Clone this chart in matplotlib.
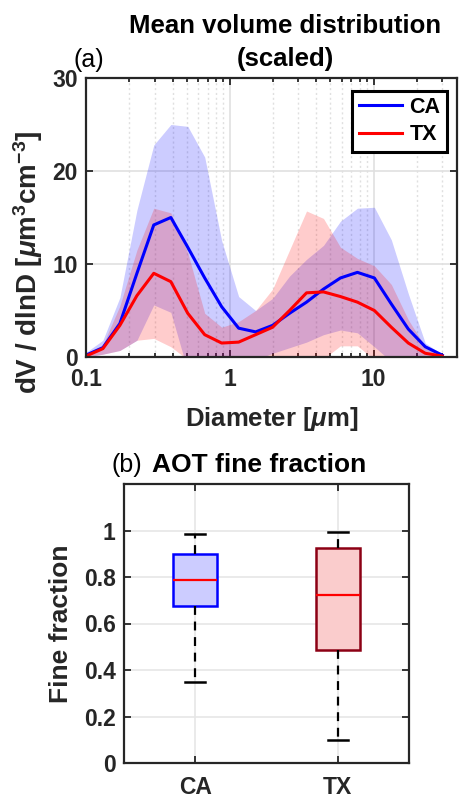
import matplotlib
matplotlib.use('Agg')
import matplotlib.pyplot as plt
from matplotlib.ticker import LogLocator, FixedLocator, FixedFormatter, NullFormatter

plt.rcParams['font.family'] = ['Liberation Sans', 'DejaVu Sans']
plt.rcParams['mathtext.fontset'] = 'custom'
plt.rcParams['mathtext.rm'] = 'Liberation Sans:bold'
plt.rcParams['mathtext.it'] = 'Liberation Sans:italic:bold'
plt.rcParams['mathtext.bf'] = 'Liberation Sans:bold'

# ---------------- data ----------------
diameter = [0.100, 0.131, 0.172, 0.226, 0.296, 0.389, 0.510, 0.669, 0.878, 1.152, 1.512,
            1.984, 2.603, 3.416, 4.481, 5.880, 7.715, 10.12, 13.28, 17.43, 22.86, 30.0]

ca_mean  = [0.2, 1.0, 3.6, 9.0, 14.2, 15.0, 11.8, 8.5, 5.4, 3.1, 2.7,
            3.4, 4.7, 5.9, 7.3, 8.5, 9.1, 8.5, 5.7, 3.0, 1.1, 0.2]
ca_upper = [0.5, 1.8, 6.4, 15.8, 22.8, 25.0, 24.8, 21.5, 12.5, 6.5, 5.0,
            6.3, 8.7, 10.5, 12.0, 14.6, 16.0, 16.1, 12.6, 6.8, 1.5, 0.3]
ca_lower = [0.0, 0.3, 0.7, 1.8, 5.6, 4.8, -1.5, -2.0, -2.0, -1.0, -0.3,
            0.4, 1.0, 1.6, 2.4, 2.9, 2.6, 1.1, -0.5, -0.5, -0.2, 0.0]

tx_mean  = [0.1, 0.9, 3.4, 6.6, 9.0, 8.1, 4.7, 2.4, 1.5, 1.6, 2.4,
            3.2, 5.0, 6.9, 7.0, 6.5, 5.9, 5.0, 3.2, 1.5, 0.4, 0.1]
tx_upper = [0.4, 1.3, 5.5, 11.5, 16.0, 15.5, 11.2, 4.7, 3.2, 3.8, 5.0,
            7.3, 11.5, 15.7, 14.9, 11.8, 10.6, 9.8, 7.8, 4.0, 1.1, 0.1]
tx_lower = [0.0, 0.3, 0.7, 1.8, 2.0, 1.1, -0.3, -1.0, -1.0, -1.0, -1.0,
            -1.0, -1.0, -0.8, -0.2, 1.2, 1.2, -0.3, -1.0, -0.5, -0.2, 0.0]

groups  = ['CA', 'TX']
ff_med  = [0.785, 0.721]
ff_q1   = [0.675, 0.485]
ff_q3   = [0.900, 0.924]
ff_lo   = [0.349, 0.099]
ff_hi   = [0.983, 0.993]

xticks_a = [0.1, 1, 10]
xticklabels_a = ['0.1', '1', '10']
yticks_a = [0, 10, 20, 30]
yticks_b = [0, 0.2, 0.4, 0.6, 0.8, 1.0]
yticklabels_b = ['0', '0.2', '0.4', '0.6', '0.8', '1']

# ---------------- figure ----------------
W, H = 460, 799
fig = plt.figure(figsize=(W / 100, H / 100), dpi=100)
dark = (0.15, 0.15, 0.15)
TICK = 16.5

def style_axes(ax):
    for s in ax.spines.values():
        s.set_color(dark)
        s.set_linewidth(1.6)
    ax.tick_params(which='both', direction='in', top=True, right=True,
                   colors=dark, width=1.3)
    ax.tick_params(which='major', length=5, labelsize=TICK, pad=6)
    ax.tick_params(which='minor', length=3)
    for lab in ax.get_xticklabels() + ax.get_yticklabels():
        lab.set_fontweight('bold')
        lab.set_color(dark)

# ---- panel (a) ----
ax1 = fig.add_axes([86 / W, 1 - 357 / H, 371 / W, 279 / H])
ax1.set_xscale('log')
ax1.fill_between(diameter, ca_lower, ca_upper, color='blue', alpha=0.2, lw=0)
ax1.fill_between(diameter, tx_lower, tx_upper, color='red', alpha=0.2, lw=0)
ax1.plot(diameter, ca_mean, color='blue', lw=2.2, label='CA')
ax1.plot(diameter, tx_mean, color='red', lw=2.2, label='TX')
ax1.set_xlim(0.1, 38)
ax1.set_ylim(0, 30)
ax1.xaxis.set_major_locator(FixedLocator(xticks_a))
ax1.xaxis.set_major_formatter(FixedFormatter(xticklabels_a))
ax1.xaxis.set_minor_locator(LogLocator(base=10, subs=range(2, 10), numticks=20))
ax1.xaxis.set_minor_formatter(NullFormatter())
ax1.set_yticks(yticks_a)
ax1.set_axisbelow(True)
ax1.grid(which='major', color=(0.88, 0.88, 0.88), lw=1.2)
ax1.grid(which='minor', axis='x', color=(0.88, 0.88, 0.88), lw=1.0, ls=(0, (1.5, 2)))
style_axes(ax1)
ax1.tick_params(axis='x', which='major', pad=8)
leg = ax1.legend(loc='upper right', bbox_to_anchor=(0.973, 0.955),
                 prop={'weight': 'bold', 'size': 15.5}, handlelength=2.0,
                 fancybox=False, framealpha=1, edgecolor='black',
                 borderaxespad=0, borderpad=0.3, labelspacing=0.3, handletextpad=0.35)
leg.get_frame().set_linewidth(2.2)

fig.text(285 / W, 1 - 26 / H, 'Mean volume distribution', ha='center', va='center',
         fontsize=18.5, fontweight='bold')
fig.text(285 / W, 1 - 59 / H, '(scaled)', ha='center', va='center',
         fontsize=18.5, fontweight='bold')
fig.text(89 / W, 1 - 60 / H, '(a)', ha='center', va='center', fontsize=18)
fig.text(272 / W, 1 - 419 / H, r'Diameter [$\mu$m]', ha='center', va='center',
         fontsize=18.5, fontweight='bold', color=dark)
fig.text(28 / W, 1 - 262 / H, r'dV / dlnD [$\mu$m$^{3}$cm$^{-3}$]', ha='center', va='center',
         rotation=90, fontsize=20, fontweight='bold', color=dark)

# ---- panel (b) ----
ax2 = fig.add_axes([124 / W, 1 - 763 / H, 285 / W, 279 / H])
stats = []
for i, g in enumerate(groups):
    stats.append(dict(label=g, med=ff_med[i], q1=ff_q1[i], q3=ff_q3[i],
                      whislo=ff_lo[i], whishi=ff_hi[i], fliers=[]))
bp = ax2.bxp(stats, positions=[1, 2], widths=0.31, patch_artist=True,
             showfliers=False, capwidths=0.14,
             whiskerprops=dict(color='black', lw=1.6, ls=(0, (4, 3))),
             capprops=dict(color='black', lw=1.8),
             medianprops=dict(color='red', lw=1.6))
face = [(0.8, 0.8, 1.0), (0.98, 0.8, 0.8)]
edge = ['blue', (0.55, 0.0, 0.08)]
for patch, fc, ec in zip(bp['boxes'], face, edge):
    patch.set_facecolor(fc)
    patch.set_edgecolor(ec)
    patch.set_linewidth(1.8)
ax2.set_xlim(0.5, 2.5)
ax2.set_ylim(0, 1.2)
ax2.set_yticks(yticks_b)
ax2.set_yticklabels(yticklabels_b)
ax2.set_axisbelow(True)
ax2.grid(which='major', color=(0.9, 0.9, 0.9), lw=1.2)
style_axes(ax2)
ax2.tick_params(axis='x', which='major', pad=9)

fig.text(127 / W, 1 - 465 / H, '(b)', ha='center', va='center', fontsize=18)
fig.text(259 / W, 1 - 465 / H, 'AOT fine fraction', ha='center', va='center',
         fontsize=19, fontweight='bold')
fig.text(61 / W, 1 - 624 / H, 'Fine fraction', ha='center', va='center',
         rotation=90, fontsize=19, fontweight='bold', color=dark)

fig.savefig('out.png', dpi=100)
